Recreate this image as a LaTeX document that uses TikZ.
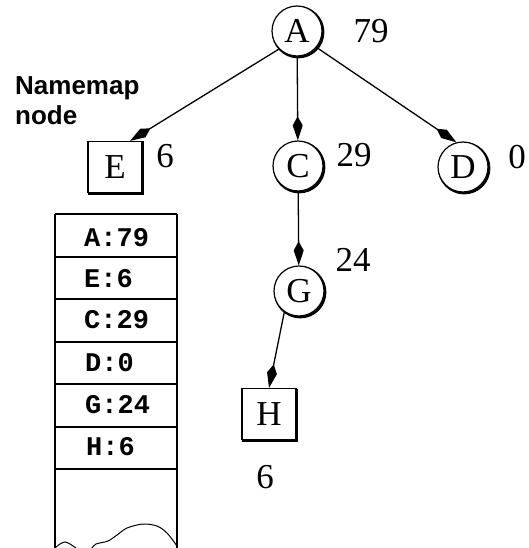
\documentclass[tikz,border=0pt]{standalone}
\usepackage{fontspec}
\setmainfont{Liberation Serif}
\newfontfamily\labelsans{Liberation Sans}
\newfontfamily\codemono{Liberation Mono}
\usetikzlibrary{arrows.meta}

\begin{document}
\begin{tikzpicture}[x=1pt,y=-1pt,
  edge/.style={line width=1.3pt, -{Kite[length=24pt,width=10pt,inset=9pt]}},
  % offset dark rim on the lower right of each tree node
  castshadow/.style={preaction={draw=black, line width=2.4pt,
      transform canvas={shift={(1.2pt,-1.2pt)}}}},
  treecirc/.style={circle, draw, line width=1.2pt, fill=white, minimum size=50pt,
    inner sep=0pt, font=\fontsize{35}{35}\selectfont, castshadow},
  treebox/.style={rectangle, draw, line width=1.2pt, fill=white, minimum width=54pt,
    minimum height=51pt, inner sep=0pt, font=\fontsize{35}{35}\selectfont, castshadow},
  weight/.style={inner sep=0pt, font=\fontsize{35}{35}\selectfont},
  caption/.style={inner sep=0pt, anchor=west, font=\labelsans\bfseries\fontsize{26}{26}\selectfont},
  entry/.style={inner sep=0pt, anchor=west, font=\codemono\bfseries\fontsize{27}{27}\selectfont},
  rule/.style={line width=1.1pt}
]
\useasboundingbox (0,0) rectangle (528,548);

% tree nodes
\node[treecirc] (A) at (297,31) {A};
\node[treebox]  (E) at (115,167) {E};
\node[treecirc] (C) at (298,166) {C};
\node[treecirc] (D) at (463,167) {D};
\node[treecirc] (G) at (299,291) {G};
\node[treebox]  (H) at (269,414) {H};

% weights
\node[weight] (wA) at (371,31) {79};
\node[weight] (wE) at (165,156) {6};
\node[weight] (wC) at (354,155) {29};
\node[weight] (wD) at (517,157) {0};
\node[weight] (wG) at (353,260) {24};
\node[weight] (wH) at (265,477) {6};

% edges
\draw[edge] (A.225) -- (E.60);
\draw[edge] (A) -- (C);
\draw[edge] (A.-40) -- (D.105);
\draw[edge] (C) -- (G);
\draw[edge] (G.235) -- (H.north);

% caption
\node[caption] (cap1) at (15,88) {Namemap};
\node[caption] (cap2) at (15,115) {node};

% namemap table
\draw[rule] (55,214) -- (177,214);
\draw[rule] (55,214) -- (55,548);
\draw[rule] (177,214) -- (177,548);
\foreach \yy in {257,299,342,384,427,469}
  \draw[rule] (55,\yy) -- (177,\yy);

\node[entry] (rA) at (84,238) {A:79};
\node[entry] (rE) at (84,279) {E:6};
\node[entry] (rC) at (84,320) {C:29};
\node[entry] (rD) at (85,363) {D:0};
\node[entry] (rG) at (85,405) {G:24};
\node[entry] (rH) at (86,447) {H:6};

% torn edge at the bottom of the table
\draw[line width=1pt] plot[smooth] coordinates {(55,548) (60,544) (65,542) (70,544) (76,548)};
\draw[line width=1pt] plot[smooth] coordinates {(92,548) (96,544) (108,541) (117,535) (127,528) (143,524) (157,526) (167,533) (177,546)};
\end{tikzpicture}
\end{document}
